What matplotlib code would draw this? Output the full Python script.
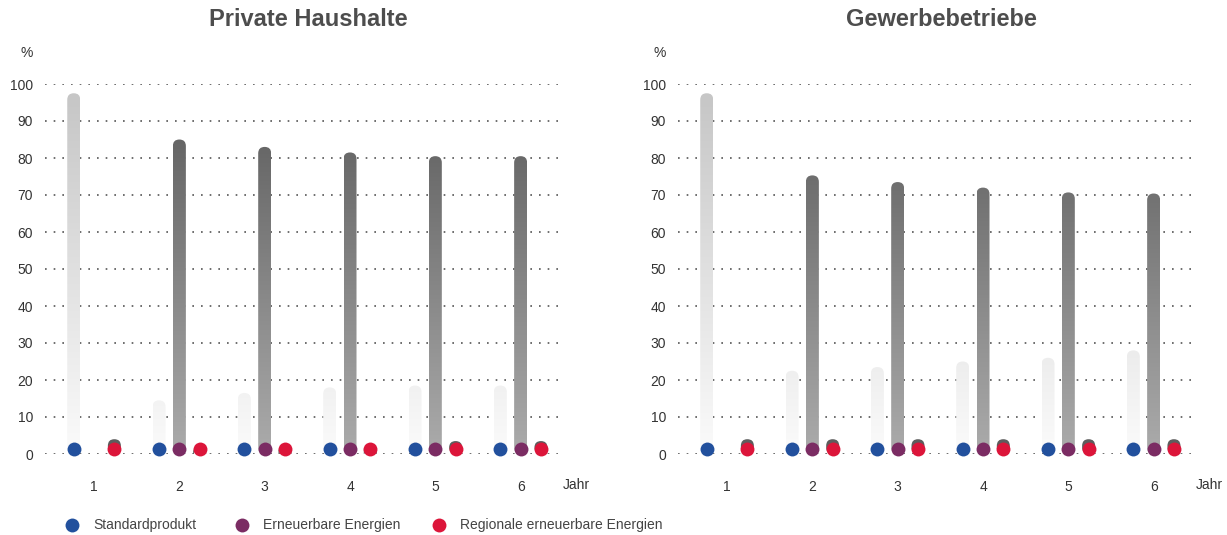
import numpy as np
import matplotlib.pyplot as plt
from matplotlib.patches import FancyBboxPatch
from matplotlib.colors import LinearSegmentedColormap, Normalize
from matplotlib.lines import Line2D
import matplotlib.transforms as mtransforms

plt.rcParams['font.family'] = ['Liberation Sans', 'DejaVu Sans']

years = [1, 2, 3, 4, 5, 6]
series = ['Standardprodukt', 'Erneuerbare Energien', 'Regionale erneuerbare Energien']
dot_colors = ['#22509d', '#7b2c63', '#dc153a']

# shares in percent, nan = product not offered that year
private_standard = [97.5, 14.5, 16.5, 18.0, 18.5, 18.5]
private_renew = [np.nan, 85.0, 83.0, 81.5, 80.5, 80.5]
private_regional = [4.0, 1.0, 1.0, 1.0, 3.5, 3.5]

business_standard = [97.5, 22.5, 23.5, 25.0, 26.0, 28.0]
business_renew = [np.nan, 75.3, 73.5, 72.0, 70.7, 70.4]
business_regional = [4.0, 4.0, 4.0, 4.0, 4.0, 4.0]

panels = [
    ('Private Haushalte', [private_standard, private_renew, private_regional]),
    ('Gewerbebetriebe', [business_standard, business_renew, business_regional]),
]

W, H = 1227, 535
fig = plt.figure(figsize=(W / 100, H / 100), dpi=100)

XMIN, XMAX = 0.425, 6.52
offset = 0.238
bar_px = 13

light_cmap = LinearSegmentedColormap.from_list('light', ['#fbfbfb', '#c6c6c6'])
dark_cmap = LinearSegmentedColormap.from_list('dark', ['#ababab', '#666666'])
light_norm = Normalize(0, 97.5)
dark_norm = Normalize(0, 85)


def gradient_bar(ax, x, top, width, aspect, cmap, norm):
    if np.isnan(top) or top <= 0:
        return
    box = FancyBboxPatch((x - width / 2, 0), width, top,
                         boxstyle=f'round,pad=0,rounding_size={width / 2}',
                         mutation_aspect=aspect, facecolor='none', edgecolor='none')
    ax.add_patch(box)
    grad = np.linspace(0, top, 256).reshape(-1, 1)
    im = ax.imshow(grad, cmap=cmap, norm=norm, origin='lower', aspect='auto',
                   extent=[x - width / 2, x + width / 2, 0, top],
                   interpolation='bilinear', zorder=2)
    im.set_clip_path(box)


def solid_bar(ax, x, top, width, aspect, color):
    if np.isnan(top) or top <= 0:
        return
    box = FancyBboxPatch((x - width / 2, 0), width, top,
                         boxstyle=f'round,pad=0,rounding_size={width / 2}',
                         mutation_aspect=aspect, facecolor=color, edgecolor='none',
                         zorder=2)
    ax.add_patch(box)


for i, (title, values) in enumerate(panels):
    left_px = 45 + i * 633
    ax = fig.add_axes([left_px / W, 81 / H, 520 / W, 370 / H])

    px_x = 520 / (XMAX - XMIN)
    px_y = 370 / 100
    width = bar_px / px_x
    aspect = px_x / px_y

    standard, renew, regional = values
    xs = np.array(years, dtype=float)
    for k in range(len(years)):
        gradient_bar(ax, xs[k] - offset, standard[k], width, aspect, light_cmap, light_norm)
        gradient_bar(ax, xs[k], renew[k], width, aspect, dark_cmap, dark_norm)
        solid_bar(ax, xs[k] + offset, regional[k], width, aspect, '#5d5d5d')

    # dots sit just above the zero line, one per offered product
    dot_tr = mtransforms.offset_copy(ax.transData, fig=fig, x=0, y=5, units='dots')
    for j, vals in enumerate(values):
        vals = np.array(vals, dtype=float)
        ok = ~np.isnan(vals)
        ax.plot(xs[ok] + (j - 1) * offset, np.zeros(ok.sum()), 'o',
                color=dot_colors[j], markersize=10, markeredgewidth=0,
                transform=dot_tr, clip_on=False, zorder=4)

    ax.set_xlim(XMIN, XMAX)
    ax.set_ylim(0, 100)
    ax.set_yticks(range(0, 101, 10))
    ax.set_xticks(years)
    ax.tick_params(length=0, labelsize=10, labelcolor='#333333')
    ax.tick_params(axis='y', pad=8.6)
    ax.tick_params(axis='x', pad=19)
    ax.grid(axis='y', linestyle=(0, (1, 4.2)), color='#555555', linewidth=1.2)
    ax.set_axisbelow(True)
    for s in ax.spines.values():
        s.set_visible(False)

    ax.annotate('Jahr', xy=(1, 0), xycoords='axes fraction', xytext=(-2, -31),
                textcoords='offset pixels', ha='left', va='center',
                fontsize=10, color='#333333')
    ax.annotate('%', xy=(0, 1), xycoords='axes fraction', xytext=(-12, 31),
                textcoords='offset pixels', ha='right', va='center',
                fontsize=10, color='#333333')
    fig.text((left_px + 263) / W, (H - 20) / H, title, ha='center', va='center',
             fontsize=17, color='#4d4d4d', weight='bold')

# legend row along the bottom
legend_px = [72, 242, 439]
for px, name, color in zip(legend_px, series, dot_colors):
    fig.add_artist(Line2D([px / W], [(H - 525) / H], marker='o', linestyle='none',
                          color=color, markersize=10, markeredgewidth=0,
                          transform=fig.transFigure))
    fig.text((px + 21) / W, (H - 525) / H, name, ha='left', va='center',
             fontsize=10, color='#444444')

fig.savefig('out.png', dpi=100)
